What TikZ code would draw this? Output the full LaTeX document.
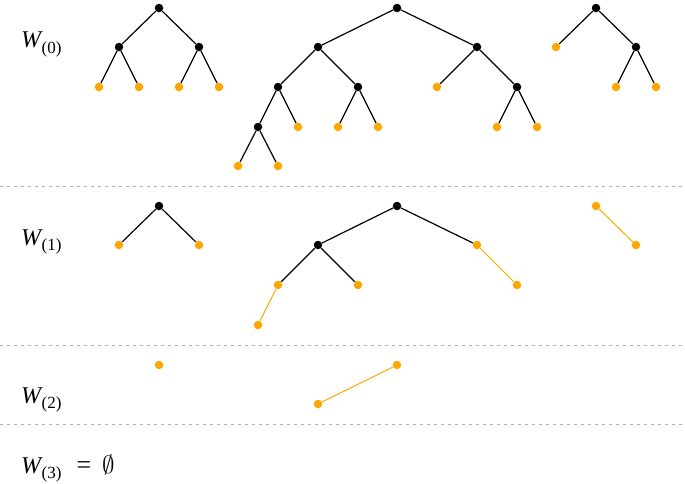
\documentclass[tikz,border=0pt]{standalone}
\usepackage{fontspec}
\setmainfont{Liberation Serif}
\definecolor{leaforange}{HTML}{FFA500}
\definecolor{sepgray}{HTML}{B0B0B0}
\newcommand{\Wlab}[1]{{\fontsize{24}{28}\selectfont\itshape W}\hspace{0.5pt}\raisebox{-5.5pt}{\fontsize{17}{19}\selectfont(#1)}}
\tikzset{
  bk/.style={circle,fill=black,inner sep=0pt,minimum size=8.5pt},
  lf/.style={circle,fill=leaforange,inner sep=0pt,minimum size=8.5pt},
  edge/.style={black,line width=1.2pt},
  oedge/.style={leaforange,line width=1pt},
  sep/.style={sepgray,line width=0.8pt,dash pattern=on 3pt off 4pt},
  lab/.style={anchor=base west,inner sep=0pt}
}
\begin{document}
\begin{tikzpicture}[x=1pt,y=-1pt]
\useasboundingbox (0,0) rectangle (685,483);
% separators
\coordinate (s1l) at (0,186); \coordinate (s1r) at (685,186);
\coordinate (s2l) at (0,345); \coordinate (s2r) at (685,345);
\coordinate (s3l) at (0,424); \coordinate (s3r) at (685,424);
\draw[sep] (s1l) -- (s1r);
\draw[sep] (s2l) -- (s2r);
\draw[sep] (s3l) -- (s3r);
% labels
\node[lab] (w0) at (21,47.5) {\Wlab{0}};
\node[lab] (w1) at (21,245) {\Wlab{1}};
\node[lab] (w2) at (21,403) {\Wlab{2}};
\node[lab] (w3) at (21,473) {\Wlab{3}\hspace{15pt}{\fontsize{26}{28}\selectfont=}\hspace{11pt}{\fontsize{30}{32}\selectfont$\emptyset$}};
% ===== W(0) =====
% tree 1
\node[bk] (t1r) at (159,8) {};
\node[bk] (t1a) at (119,47) {};
\node[bk] (t1b) at (199,47) {};
\node[lf] (t1c) at (99,87) {};
\node[lf] (t1d) at (139,87) {};
\node[lf] (t1e) at (179,87) {};
\node[lf] (t1f) at (219,87) {};
\draw[edge] (t1r)--(t1a) (t1r)--(t1b) (t1a)--(t1c) (t1a)--(t1d) (t1b)--(t1e) (t1b)--(t1f);
% tree 2
\node[bk] (t2r) at (397,8) {};
\node[bk] (t2a) at (318,47) {};
\node[bk] (t2b) at (477,47) {};
\node[bk] (t2c) at (278,87) {};
\node[bk] (t2d) at (358,87) {};
\node[bk] (t2e) at (258,127) {};
\node[lf] (t2f) at (298,127) {};
\node[lf] (t2g) at (238,166) {};
\node[lf] (t2h) at (278,166) {};
\node[lf] (t2i) at (338,127) {};
\node[lf] (t2j) at (378,127) {};
\node[lf] (t2k) at (437,87) {};
\node[bk] (t2l) at (517,87) {};
\node[lf] (t2m) at (497,127) {};
\node[lf] (t2n) at (537,127) {};
\draw[edge] (t2r)--(t2a) (t2r)--(t2b) (t2a)--(t2c) (t2a)--(t2d) (t2c)--(t2e) (t2c)--(t2f)
  (t2e)--(t2g) (t2e)--(t2h) (t2d)--(t2i) (t2d)--(t2j) (t2b)--(t2k) (t2b)--(t2l)
  (t2l)--(t2m) (t2l)--(t2n);
% tree 3
\node[bk] (t3r) at (596,8) {};
\node[lf] (t3a) at (556,47) {};
\node[bk] (t3b) at (636,47) {};
\node[lf] (t3c) at (616,87) {};
\node[lf] (t3d) at (656,87) {};
\draw[edge] (t3r)--(t3a) (t3r)--(t3b) (t3b)--(t3c) (t3b)--(t3d);
% ===== W(1) =====
\node[bk] (u1r) at (159,206) {};
\node[lf] (u1a) at (119,245) {};
\node[lf] (u1b) at (199,245) {};
\draw[edge] (u1r)--(u1a) (u1r)--(u1b);
\node[bk] (u2r) at (397,206) {};
\node[bk] (u2a) at (318,245) {};
\node[lf] (u2b) at (477,245) {};
\node[lf] (u2c) at (278,285) {};
\node[lf] (u2d) at (358,285) {};
\node[lf] (u2e) at (258,325) {};
\node[lf] (u2f) at (517,285) {};
\draw[edge] (u2r)--(u2a) (u2r)--(u2b) (u2a)--(u2c) (u2a)--(u2d);
\draw[oedge] (u2c)--(u2e) (u2b)--(u2f);
\node[lf] (u3a) at (596,206) {};
\node[lf] (u3b) at (636,245) {};
\draw[oedge] (u3a)--(u3b);
% ===== W(2) =====
\node[lf] (v1) at (159,365) {};
\node[lf] (v2a) at (397,365) {};
\node[lf] (v2b) at (318,404) {};
\draw[oedge] (v2a)--(v2b);
\end{tikzpicture}
\end{document}
